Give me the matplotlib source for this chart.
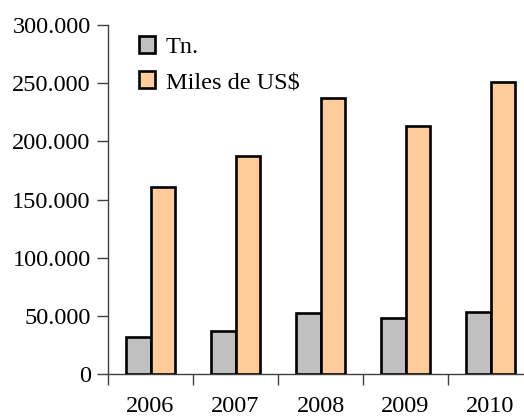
import matplotlib
matplotlib.use("Agg")
import matplotlib.pyplot as plt
from matplotlib.ticker import FuncFormatter, FixedLocator

years = ["2006", "2007", "2008", "2009", "2010"]
tn = [31500, 36700, 52200, 48400, 53500]
miles_usd = [160500, 187600, 237300, 213400, 251000]
series_labels = ["Tn.", "Miles de US$"]

plt.rcParams['font.family'] = ['Liberation Serif', 'DejaVu Serif']

fig = plt.figure(figsize=(5.24, 4.18), dpi=100)
ax = fig.add_axes([108/524, 44/418, 425/524, 349/418])

centers = [i + 0.5 for i in range(len(years))]
w = 0.288
ax.bar([c - w/2 for c in centers], tn, width=w, color="#C0C0C0",
       edgecolor="black", linewidth=1.9, label=series_labels[0], zorder=3)
ax.bar([c + w/2 for c in centers], miles_usd, width=w, color="#FFCC99",
       edgecolor="black", linewidth=1.9, label=series_labels[1], zorder=3)

ax.set_xlim(0, len(years))
ax.set_ylim(0, 300000)
ax.set_yticks(range(0, 300001, 50000))
ax.yaxis.set_major_formatter(FuncFormatter(lambda v, p: f"{int(v):,}".replace(",", ".")))
ax.set_xticks(centers)
ax.set_xticklabels(years)
ax.xaxis.set_minor_locator(FixedLocator(list(range(len(years) + 1))))
ax.tick_params(axis="x", which="major", length=0, pad=16, labelsize=17.5)
ax.tick_params(axis="x", which="minor", length=8, width=1, color="#404040")
ax.tick_params(axis="y", length=8, width=1, color="#404040", labelsize=17.5, pad=4.5)

for s in ["top", "right"]:
    ax.spines[s].set_visible(False)
for s in ["left", "bottom"]:
    ax.spines[s].set_color("#404040")
    ax.spines[s].set_linewidth(1)

leg = ax.legend(loc="upper left", bbox_to_anchor=(0.05, 0.995), frameon=False,
                fontsize=17.5, handlelength=0.65, handleheight=0.65,
                handletextpad=0.45, labelspacing=0.55, borderaxespad=0)

fig.savefig("out.png", dpi=100)
